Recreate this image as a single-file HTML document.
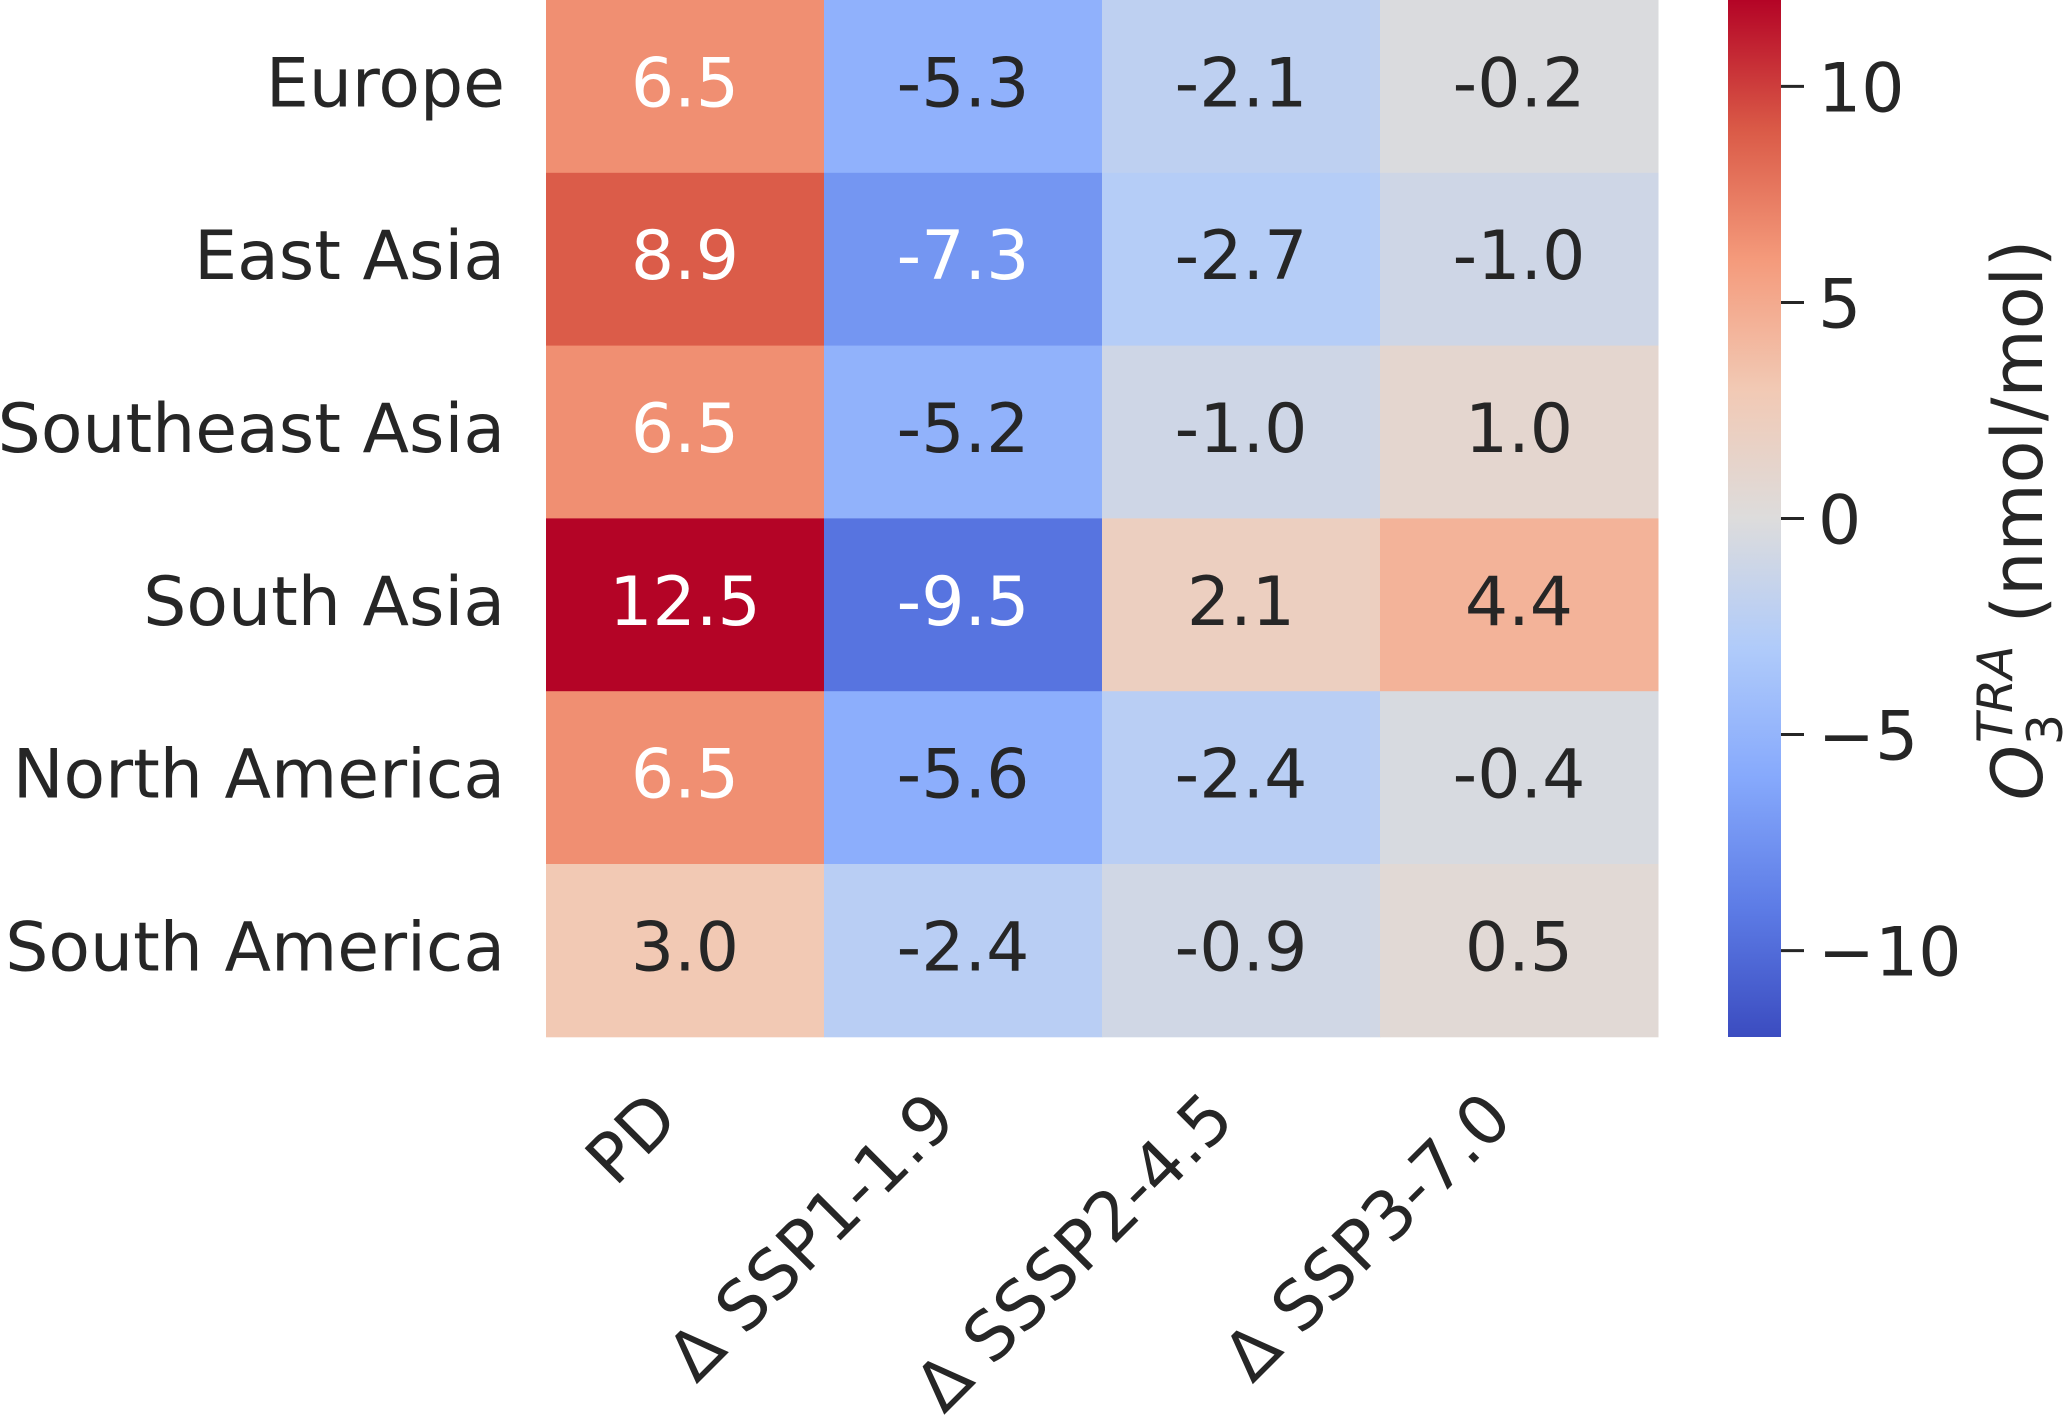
<!DOCTYPE html>
<html><head><meta charset="utf-8"><style>
html,body{margin:0;padding:0;background:#fff;}
svg{display:block;font-family:"DejaVu Sans","Liberation Sans",sans-serif;}
</style></head><body>
<svg id="chart" width="2067" height="1421" viewBox="0 0 2067 1421" xmlns="http://www.w3.org/2000/svg">
<defs>
<linearGradient id="cbgrad" x1="0" y1="1" x2="0" y2="0">
<stop offset="0" stop-color="#3b4cc0"/><stop offset="0.125" stop-color="#5d7ce6"/>
<stop offset="0.25" stop-color="#86a9fc"/><stop offset="0.375" stop-color="#b0cbfa"/>
<stop offset="0.5" stop-color="#dddcdc"/><stop offset="0.625" stop-color="#f2c9b4"/>
<stop offset="0.75" stop-color="#f49a7b"/><stop offset="0.875" stop-color="#da5a47"/>
<stop offset="1" stop-color="#b40426"/>
</linearGradient>
</defs>
<g id="cells"></g>
<g id="ylabels"></g>
<g id="xlabels"></g>
<rect x="1728" y="0" width="53" height="1037" fill="url(#cbgrad)"/>
<g id="cbticks"></g>
<text transform="translate(2042,520) rotate(-90)" text-anchor="middle" font-size="70" fill="#262626"><tspan font-style="italic">O</tspan><tspan font-size="49" dy="20">3</tspan><tspan font-size="49" font-style="italic" dx="-29" dy="-50">TRA</tspan><tspan dy="30"> (nmol/mol)</tspan></text>
</svg>
<script>
const rows = ["Europe","East Asia","Southeast Asia","South Asia","North America","South America"];
const cols = ["PD","Δ SSP1-1.9","Δ SSSP2-4.5","Δ SSP3-7.0"];
const valPD = [6.5, 8.9, 6.5, 12.5, 6.5, 3.0];
const valSSP119 = [-5.3, -7.3, -5.2, -9.5, -5.6, -2.4];
const valSSP245 = [-2.1, -2.7, -1.0, 2.1, -2.4, -0.9];
const valSSP370 = [-0.2, -1.0, 1.0, 4.4, -0.4, 0.5];
const cbTicks = [10, 5, 0, -5, -10];
const vmin = -12, vmax = 12;

const NS = "http://www.w3.org/2000/svg";
const X0 = 546, CW = 278, Y0 = 0, RH = 172.8;
const CB_TOP = 0, CB_H = 1037;
const FS = 68;
const xPos = i => X0 + i*CW;
const yPos = j => Y0 + j*RH;
const cbY = v => CB_TOP + (vmax - v)/(vmax - vmin)*CB_H;
const stops = [[0,[59,76,192]],[0.125,[93,124,230]],[0.25,[134,169,252]],[0.375,[176,203,250]],[0.5,[221,220,220]],[0.625,[242,201,180]],[0.75,[244,154,123]],[0.875,[218,90,71]],[1,[180,4,38]]];
function cmap(v){
  let t = Math.max(0, Math.min(1, (v - vmin)/(vmax - vmin)));
  for (let k=1;k<stops.length;k++){
    if (t <= stops[k][0]){
      const a=stops[k-1], b=stops[k], f=(t-a[0])/(b[0]-a[0]);
      return a[1].map((c,i)=>Math.round(c+(b[1][i]-c)*f));
    }
  }
  return stops[stops.length-1][1];
}
function lum(c){
  const l = c.map(x=>{x/=255;return x<=0.03928?x/12.92:Math.pow((x+0.055)/1.055,2.4);});
  return 0.2126*l[0]+0.7152*l[1]+0.0722*l[2];
}
const series = [valPD, valSSP119, valSSP245, valSSP370];
const cells = document.getElementById("cells");
series.forEach((s,i)=>{
  s.forEach((v,j)=>{
    const c = cmap(v);
    const r = document.createElementNS(NS,"rect");
    
    
    r.setAttribute("x", xPos(i)); r.setAttribute("y", yPos(j));
    r.setAttribute("width", CW+0.5); r.setAttribute("height", RH+0.5);
    r.setAttribute("fill", `rgb(${c.join(",")})`);
    cells.appendChild(r);
    const t = document.createElementNS(NS,"text");
    
    
    t.setAttribute("x", xPos(i)+CW/2); t.setAttribute("y", yPos(j)+RH/2+20);
    t.setAttribute("text-anchor","middle"); t.setAttribute("font-size", FS);
    t.setAttribute("fill", lum(c) > 0.408 ? "#262626" : "#ffffff");
    t.textContent = v.toFixed(1);
    cells.appendChild(t);
  });
});
const yl = document.getElementById("ylabels");
rows.forEach((name,j)=>{
  const t = document.createElementNS(NS,"text");
  
  
  t.setAttribute("x", 505); t.setAttribute("y", yPos(j)+RH/2+20);
  t.setAttribute("text-anchor","end"); t.setAttribute("font-size", FS); t.setAttribute("fill","#262626");
  t.textContent = name;
  yl.appendChild(t);
});
const xl = document.getElementById("xlabels");
cols.forEach((name,i)=>{
  const ax = xPos(i)+CW/2 - 4, ay = 1122;
  const t = document.createElementNS(NS,"text");
  
  
  t.setAttribute("transform", `translate(${ax},${ay}) rotate(-45)`);
  t.setAttribute("text-anchor","end"); t.setAttribute("font-size", FS); t.setAttribute("fill","#262626");
  t.textContent = name;
  xl.appendChild(t);
});
const cb = document.getElementById("cbticks");
cbTicks.forEach(v=>{
  const y = cbY(v);
  const l = document.createElementNS(NS,"line");
  
  
  l.setAttribute("x1",1781); l.setAttribute("x2",1804); l.setAttribute("y1",y); l.setAttribute("y2",y);
  l.setAttribute("stroke","#262626"); l.setAttribute("stroke-width","3");
  cb.appendChild(l);
  const t = document.createElementNS(NS,"text");
  
  
  t.setAttribute("x",1818); t.setAttribute("y",y+25);
  t.setAttribute("font-size", FS); t.setAttribute("fill","#262626");
  t.textContent = v < 0 ? "\u2212" + Math.abs(v) : String(v);
  cb.appendChild(t);
});
</script>
</body></html>
